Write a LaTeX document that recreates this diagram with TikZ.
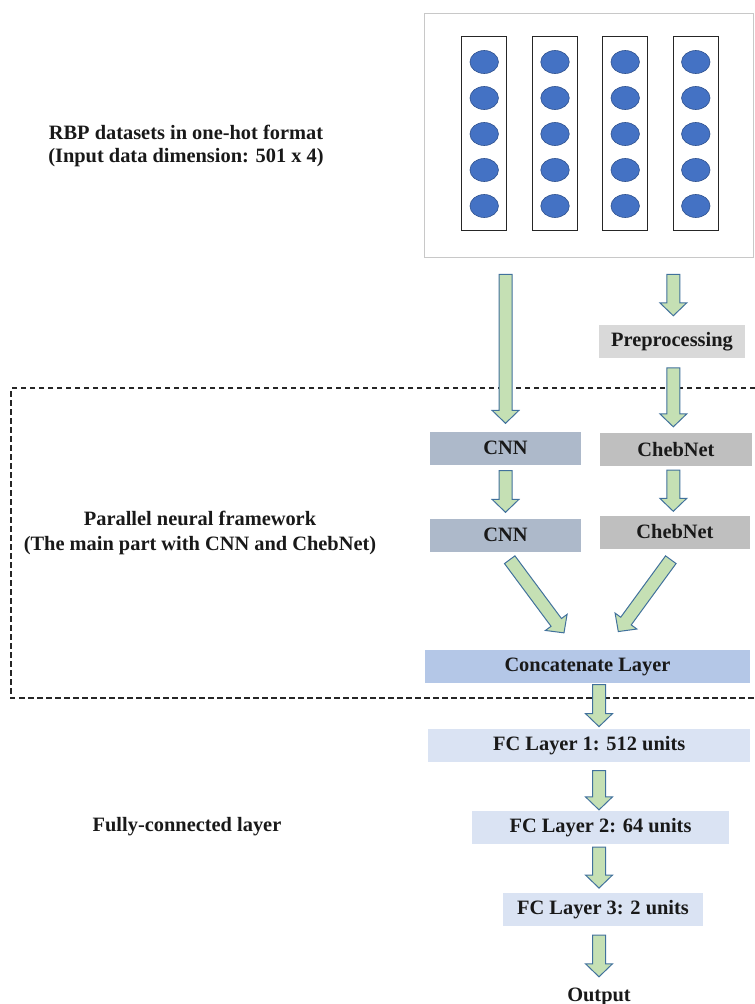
\documentclass[tikz,border=0pt]{standalone}
\usepackage{fontspec}
\setmainfont{Liberation Serif}
\usetikzlibrary{calc,shapes.geometric}
\definecolor{arrfill}{HTML}{C5E0B4}
\definecolor{arrline}{HTML}{41719C}
\definecolor{cnncol}{HTML}{ADB9CA}
\definecolor{chebcol}{HTML}{BFBFBF}
\definecolor{prepcol}{HTML}{D9D9D9}
\definecolor{catcol}{HTML}{B4C7E7}
\definecolor{fccol}{HTML}{DAE3F3}
\definecolor{dotfill}{HTML}{4472C4}
\definecolor{dotline}{HTML}{2F528F}
\definecolor{frame}{HTML}{C8C8C8}
\newcommand\blockarrow[2]{%
  \coordinate (ba-h) at ($(#2)!13pt!(#1)$);
  \draw[blockarr] ($(#1)!6.5pt!90:(#2)$) -- ($(ba-h)!6.5pt!90:(#2)$) -- ($(ba-h)!13.5pt!90:(#2)$) -- (#2) -- ($(ba-h)!13.5pt!-90:(#2)$) -- ($(ba-h)!6.5pt!-90:(#2)$) -- ($(#1)!6.5pt!-90:(#2)$) -- cycle;}
\tikzset{
  blockarr/.style={fill=arrfill, draw=arrline, line width=1pt, line join=miter},
  box/.style={draw=none, inner sep=0pt, font=\fontsize{20.4}{24}\selectfont\bfseries, text=black!90},
  lbl/.style={inner sep=0pt, align=center, font=\fontsize{20.4}{24}\selectfont\bfseries, text=black!90},
  colbox/.style={draw=black!85, line width=1.2pt, minimum width=45pt, minimum height=194pt, inner sep=0pt},
  dot/.style={ellipse, fill=dotfill, draw=dotline, line width=0.6pt, minimum width=28.5pt, minimum height=23pt, inner sep=0pt},
  frameline/.style={dashed, dash pattern=on 5.5pt off 3.5pt, line width=1.1pt, black!85}
}
\begin{document}
\begin{tikzpicture}[x=1pt,y=-1pt]
\useasboundingbox (0,0) rectangle (755,1004);
% input box
\node[draw=frame, line width=0.8pt, minimum width=329pt, minimum height=244pt, inner sep=0pt] (input) at (588.5,135) {};
\foreach \i/\x in {1/484.2,2/555,3/625.2,4/695.8}{
  \node[colbox] (col\i) at (\x,133.7) {};
  \foreach \j/\y in {1/62,2/98,3/134,4/170,5/206}{
    \node[dot] (d\i\j) at (\x,\y) {};
  }
}
% labels
\node[lbl, font=\fontsize{20.4}{23}\selectfont\bfseries] (rbp) at (186,146) {RBP datasets in one-hot format\\(Input data dimension: 501 x 4)};
\node[lbl, font=\fontsize{20.4}{25}\selectfont\bfseries] (par) at (200,533) {Parallel neural framework\\(The main part with CNN and ChebNet)};
\node[lbl] (fcl) at (187,827) {Fully-connected layer};
% dashed frame
\coordinate (fr1) at (755,388);
\coordinate (fr2) at (11,388);
\coordinate (fr3) at (11,698);
\coordinate (fr4) at (755,698);
\draw[frameline] (fr1) -- (fr2) -- (fr3) -- (fr4);
% boxes
\node[box, fill=prepcol, minimum width=146pt, minimum height=32.7pt] (prep) at (672,341.3) {Preprocessing};
\node[box, fill=cnncol, minimum width=151pt, minimum height=33pt] (cnn1) at (505.5,448) {CNN};
\node[box, fill=chebcol, minimum width=152pt, minimum height=33pt] (cheb1) at (676,449.5) {ChebNet};
\node[box, fill=cnncol, minimum width=151pt, minimum height=33pt] (cnn2) at (505.5,535) {CNN};
\node[box, fill=chebcol, minimum width=150pt, minimum height=33pt] (cheb2) at (675,532) {ChebNet};
\node[box, fill=catcol, minimum width=325pt, minimum height=33.3pt] (concat) at (587.5,666.7) {Concatenate Layer};
\node[box, fill=fccol, minimum width=321.7pt, minimum height=33pt] (fc1) at (589.2,745.8) {FC Layer 1: 512 units};
\node[box, fill=fccol, minimum width=257.6pt, minimum height=33.3pt] (fc2) at (600.5,827.7) {FC Layer 2: 64 units};
\node[box, fill=fccol, minimum width=200.6pt, minimum height=33.3pt] (fc3) at (603,909.3) {FC Layer 3: 2 units};
\node[lbl, anchor=base] (out) at (599,1001.5) {Output};
% arrows
\coordinate (a1s) at ($(input.south -| cnn1.north)+(0,17)$);
\coordinate (a1e) at ($(cnn1.north)+(0,-8)$);
\blockarrow{a1s}{a1e}
\coordinate (a2s) at ($(input.south -| prep.north)+(1.3,17)$);
\coordinate (a2e) at ($(prep.north)+(1.3,-9)$);
\blockarrow{a2s}{a2e}
\coordinate (a3s) at ($(prep.south)+(1.3,10)$);
\coordinate (a3e) at ($(cheb1.north)+(-2.7,-6)$);
\blockarrow{a3s}{a3e}
\coordinate (a4s) at ($(cnn1.south)+(0,6)$);
\coordinate (a4e) at ($(cnn2.north)+(0,-6)$);
\blockarrow{a4s}{a4e}
\coordinate (a5s) at ($(cheb1.south)+(-2.7,4)$);
\coordinate (a5e) at ($(cheb2.north)+(-1.7,-4)$);
\blockarrow{a5s}{a5e}
\coordinate (a6s) at ($(cnn2.south)+(4.2,8)$);
\coordinate (a6e) at ($(concat.north)+(-23.5,-17)$);
\blockarrow{a6s}{a6e}
\coordinate (a7s) at ($(cheb2.south)+(-4.2,11)$);
\coordinate (a7e) at ($(concat.north)+(30.8,-18.3)$);
\blockarrow{a7s}{a7e}
\coordinate (a8s) at ($(concat.south)+(11.5,1)$);
\coordinate (a8e) at ($(fc1.north)+(9.8,-2.5)$);
\blockarrow{a8s}{a8e}
\coordinate (a9s) at ($(fc1.south)+(9.8,8)$);
\coordinate (a9e) at ($(fc2.north)+(-1.5,-1)$);
\blockarrow{a9s}{a9e}
\coordinate (a10s) at ($(fc2.south)+(-1.5,2.5)$);
\coordinate (a10e) at ($(fc3.north)+(-4,-4.4)$);
\blockarrow{a10s}{a10e}
\coordinate (a11s) at ($(fc3.south)+(-4,9)$);
\coordinate (a11e) at ($(out.north)+(0,-11)$);
\blockarrow{a11s}{a11e}
\end{tikzpicture}
\end{document}
